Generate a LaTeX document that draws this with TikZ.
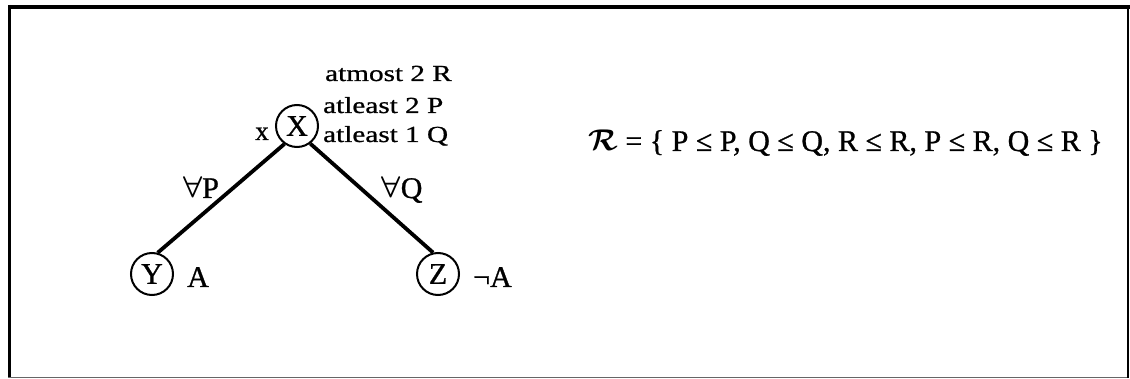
\documentclass[tikz,border=0pt]{standalone}
\usepackage{fix-cm}
\usepackage{fontspec}
\setmainfont[FakeBold=0.9]{Liberation Serif}
\newfontfamily\wideserif[FakeStretch=1.27,FakeBold=0.9]{Liberation Serif}
\newcommand{\fa}{{\boldmath$\forall$}}
\begin{document}
\begin{tikzpicture}[x=1pt,y=-1pt,
  state/.style={draw, circle, line width=2pt, minimum size=42pt, inner sep=0pt,
                font=\fontsize{30}{36}\selectfont},
  lbl/.style={inner sep=0pt, font=\fontsize{30}{36}\selectfont},
  cons/.style={inner sep=0pt, anchor=base west, font=\wideserif\fontsize{23}{28}\selectfont},
  link/.style={line width=3.8pt}]
\useasboundingbox (0,0) rectangle (1130,379);

% frame
\draw[line width=4pt] (9,7) -- (1130,7);
\draw[line width=3pt] (9.5,5) -- (9.5,378);
\draw[line width=1.2pt, black!60] (8,377.5) -- (1128,377.5);
\draw[line width=2pt] (1128,7) -- (1128,378);

% tableau nodes
\node[state] (X) at (297,126) {X};
\node[state] (Y) at (152,274) {Y};
\node[state] (Z) at (438,274) {Z};

% edges
\draw[link] (X.235) -- (Y.75);
\draw[link] (X.307) -- (Z.103);

% labels
\node[lbl, anchor=base, font=\fontsize{27}{32}\selectfont] (xl) at (262,140) {x};
\node[cons] (c1) at (325,81) {atmost 2 R};
\node[cons] (c2) at (323,113) {atleast 2 P};
\node[cons] (c3) at (323,142) {atleast 1 Q};
\node[lbl, anchor=base] (ep) at (201,198) {\fa P};
\node[lbl, anchor=base] (eq) at (402,198) {\fa Q};
\node[lbl, anchor=base west] (ya) at (187,287) {A};
\node[lbl, anchor=base west] (zn) at (473,287) {¬A};

% role hierarchy
\node[lbl, anchor=base west] (rh) at (588,151)
  {{\boldmath$\mathcal{R}$} = \{ P ≤ P, Q ≤ Q, R ≤ R, P ≤ R, Q ≤ R \}};
\end{tikzpicture}
\end{document}
